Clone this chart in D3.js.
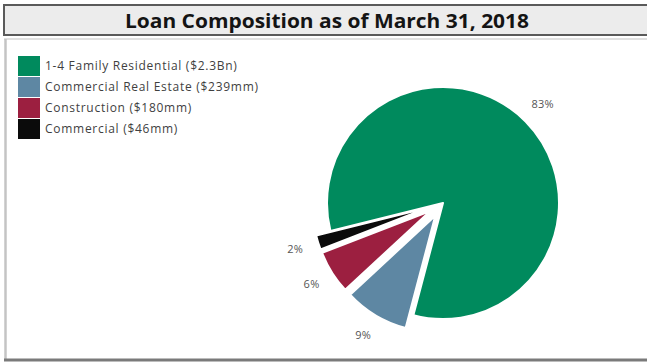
<!DOCTYPE html>
<html>
<head>
<meta charset="utf-8">
<script src="https://cdn.jsdelivr.net/npm/d3@7"></script>
<style>
  html, body { margin: 0; padding: 0; background: #ffffff; }
  svg { display: block; }
</style>
</head>
<body>
<svg id="chart" width="647" height="363"></svg>
<script>
// Loan portfolio mix
const categories = [
  "1-4 Family Residential ($2.3Bn)",
  "Commercial Real Estate ($239mm)",
  "Construction ($180mm)",
  "Commercial ($46mm)"
];
const shares = [83, 9, 6, 2];            // percent of total loans
const shareLabels = ["83%", "9%", "6%", "2%"];
const exploded = [false, true, true, true];
const colors = ["#008a5d", "#5e87a3", "#9c1f40", "#0b0b0b"];
const title = "Loan Composition as of March 31, 2018";

const svg = d3.select("#chart");
const W = 647, H = 363;

// Title banner
svg.append("rect")
  .attr("x", 4).attr("y", 5).attr("width", W + 4).attr("height", 30)
  .attr("fill", "#ececec").attr("stroke", "#5a5a5a").attr("stroke-width", 2);
svg.append("text")
  .attr("x", 327).attr("y", 27.5)
  .attr("text-anchor", "middle")
  .attr("font-family", "'Open Sans', 'Liberation Sans', sans-serif")
  .attr("font-weight", 700).attr("font-size", 19.5)
  .attr("textLength", 404).attr("lengthAdjust", "spacingAndGlyphs")
  .attr("fill", "#141414")
  .text(title);

// Chart panel frame
svg.append("line").attr("x1", 4).attr("x2", W).attr("y1", 39).attr("y2", 39)
  .attr("stroke", "#d6d6d6").attr("stroke-width", 1.5);
svg.append("line").attr("x1", 5.5).attr("x2", 5.5).attr("y1", 39).attr("y2", 359)
  .attr("stroke", "#c4c4c4").attr("stroke-width", 2.5);
svg.append("line").attr("x1", 4).attr("x2", W).attr("y1", 360).attr("y2", 360)
  .attr("stroke", "#7a7a7a").attr("stroke-width", 3);

// Legend
const legend = svg.append("g").attr("transform", "translate(18,56)");
const row = legend.selectAll("g").data(categories).join("g")
  .attr("transform", (d, i) => `translate(0,${i * 21})`);
row.append("rect")
  .attr("width", 22).attr("height", 20)
  .attr("fill", (d, i) => colors[i]);
row.append("text")
  .attr("x", 27).attr("y", 10.5)
  .attr("dominant-baseline", "middle")
  .attr("font-family", "'Open Sans', sans-serif")
  .attr("font-size", 12)
  .attr("letter-spacing", 0.72)
  .attr("fill", "#3f3f3f")
  .text(d => d);

// Pie
const cx = 443, cy = 203, radius = 116, explode = 15, labelR = radius + 24;
const startDeg = 256;
const pie = d3.pie().sort(null)
  .startAngle(startDeg * Math.PI / 180)
  .endAngle((startDeg + 360) * Math.PI / 180);
const arcs = pie(shares);
const arc = d3.arc().innerRadius(0).outerRadius(radius);
const labelArc = d3.arc().innerRadius(labelR).outerRadius(labelR);

function offset(d, i) {
  if (!exploded[i]) return [0, 0];
  const a = (d.startAngle + d.endAngle) / 2;
  return [Math.sin(a) * explode, -Math.cos(a) * explode];
}

const pieG = svg.append("g").attr("transform", `translate(${cx},${cy})`);
const slice = pieG.selectAll("g.slice").data(arcs).join("g")
  .attr("class", "slice")
  .attr("transform", (d, i) => { const o = offset(d, i); return `translate(${o[0]},${o[1]})`; });
slice.append("path")
  .attr("d", arc)
  .attr("fill", (d, i) => colors[i])
  .attr("stroke", "#ffffff").attr("stroke-width", 2).attr("stroke-linejoin", "round");
slice.append("text")
  .attr("transform", d => `translate(${labelArc.centroid(d)})`)
  .attr("text-anchor", "middle")
  .attr("dominant-baseline", "middle")
  .attr("font-family", "'Open Sans', sans-serif")
  .attr("font-size", 11)
  .attr("letter-spacing", 0.3)
  .attr("fill", "#555555")
  .text((d, i) => shareLabels[i]);
</script>
</body>
</html>
